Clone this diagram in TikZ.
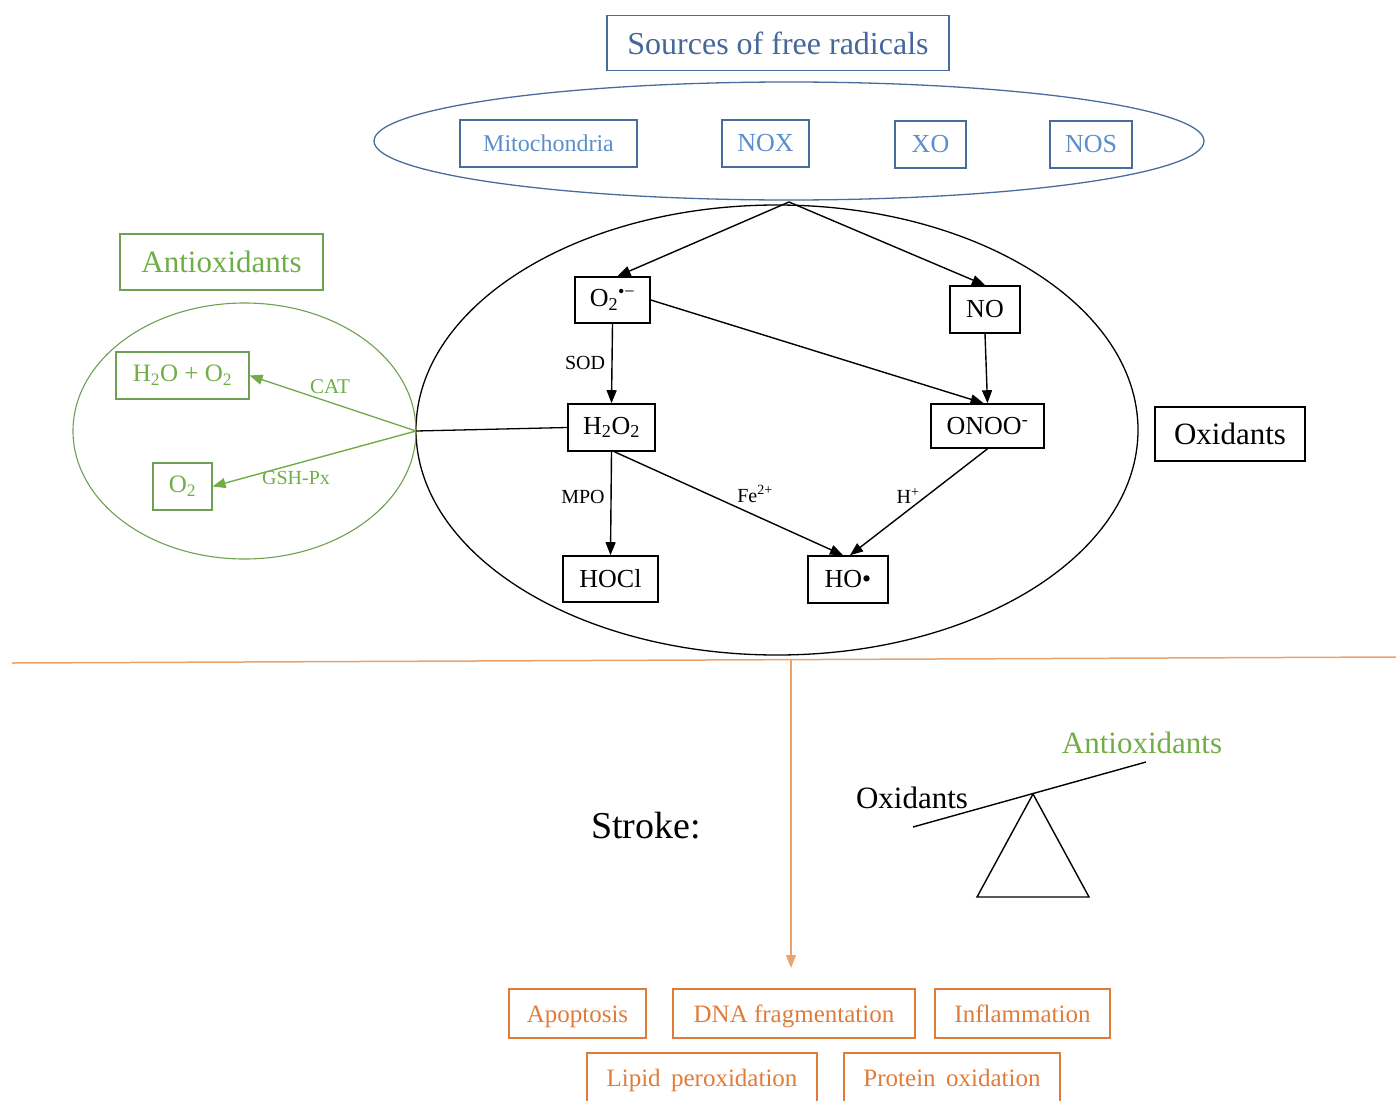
\documentclass[tikz,border=0pt]{standalone}
\usepackage{fontspec}
\setmainfont{Liberation Serif}
\usetikzlibrary{arrows.meta,shapes.geometric,calc}
\definecolor{srcblue}{HTML}{4A6C9B}
\definecolor{srctxt}{HTML}{5B8FCB}
\definecolor{titletxt}{HTML}{46679A}
\definecolor{agreen}{HTML}{70AD47}
\definecolor{gborder}{HTML}{6E9F52}
\definecolor{orng}{HTML}{E07C3A}
\definecolor{oline}{HTML}{EBA36E}
\newcommand{\myfs}[1]{\fontsize{#1}{#1}\selectfont}
\begin{document}
\begin{tikzpicture}[x=1pt,y=-1pt,
 box/.style={draw, rectangle, inner sep=0pt, line width=1.3pt},
 blkbox/.style={box, draw=black, text=black, font=\myfs{26}, line width=1.6pt},
 srcbox/.style={box, draw=srcblue, text=srctxt, font=\myfs{24}, line width=1.2pt, minimum height=47},
 grnbox/.style={box, draw=gborder, text=agreen, font=\myfs{25}, line width=1.1pt},
 orbox/.style={box, draw=orng, text=orng, font=\myfs{25}, line width=1.1pt, text height=17pt, text depth=0pt},
 arr/.style={-{Triangle[length=13pt,width=10pt]}, line width=1.4pt},
 lbl/.style={inner sep=0pt, font=\myfs{20}},
]
\useasboundingbox (0,0) rectangle (1396,1100);

% sources
\node[box, draw=srcblue, text=titletxt, font=\myfs{32}, minimum width=342, minimum height=55] (title) at (778,43) {Sources of free radicals};
\node[draw=srcblue, ellipse, line width=1.3pt, minimum width=830, minimum height=118, inner sep=0pt] (srcell) at (789,141) {};
\node[srcbox, minimum width=177] (mito) at (548.5,143.5) {Mitochondria};
\node[srcbox, minimum width=87, font=\myfs{26}] (nox) at (765.5,143.5) {NOX};
\node[srcbox, minimum width=71, font=\myfs{26}] (xo) at (930.5,144.5) {XO};
\node[srcbox, minimum width=82, font=\myfs{26}] (nos) at (1091,144.5) {NOS};

% oxidants ellipse
\node[draw=black, ellipse, line width=1.3pt, minimum width=722, minimum height=450, inner sep=0pt] (oxell) at (777,430) {};
\coordinate (apex) at (789,202);
\node[blkbox, minimum width=75, minimum height=46] (o2) at (612.5,300) {O\textsubscript{2}\textsuperscript{•−}};
\node[blkbox, minimum width=70, minimum height=47] (no) at (985,309.5) {NO};
\node[blkbox, minimum width=87, minimum height=47] (h2o2) at (611.5,427.5) {H\textsubscript{2}O\textsubscript{2}};
\node[blkbox, minimum width=113, minimum height=44] (onoo) at (987.5,426) {ONOO\textsuperscript{-}};
\node[blkbox, minimum width=95, minimum height=46] (hocl) at (610.5,579) {HOCl};
\node[blkbox, minimum width=80, minimum height=47] (ho) at (848,579.5) {HO•};
\node[blkbox, minimum width=150, minimum height=54, font=\myfs{31}] (oxid) at (1230,434) {Oxidants};

\draw[arr] (apex) -- ([xshift=5pt]o2.north);
\draw[arr] (apex) -- (no.north);
\draw[arr] (o2.south) -- (h2o2.north);
\draw[arr] (o2.east) -- ([xshift=-4pt]onoo.north);
\draw[arr] (no.south) -- (onoo.north);
\draw[arr] (h2o2.south) -- (hocl.north);
\draw[arr] ([xshift=3pt]h2o2.south) -- ([xshift=-5pt]ho.north);
\draw[arr] (onoo.south) -- ([xshift=2pt]ho.north);
\node[lbl] (sod) at (585,363) {SOD};
\node[lbl] (mpo) at (583,497) {MPO};
\node[lbl] (fe) at (755,494) {Fe\textsuperscript{2+}};
\node[lbl] (hp) at (908,496) {H\textsuperscript{+}};

% antioxidants
\node[grnbox, minimum width=203, minimum height=56, font=\myfs{31}] (antiox) at (221.5,262) {Antioxidants};
\node[draw=gborder, ellipse, line width=1.1pt, minimum width=343, minimum height=256, inner sep=0pt] (gell) at (244.5,431) {};
\node[grnbox, minimum width=133, minimum height=47] (h2o) at (182.5,375.5) {H\textsubscript{2}O + O\textsubscript{2}};
\node[grnbox, minimum width=59, minimum height=47] (o2g) at (182.5,486.5) {O\textsubscript{2}};
\coordinate (gsrc) at (416,431);
\draw[line width=1.3pt] (h2o2.west) -- (gsrc);
\draw[arr, agreen] (gsrc) -- (h2o.east);
\draw[arr, agreen] (gsrc) -- (o2g.east);
\node[lbl, text=agreen, font=\myfs{21}] (cat) at (330,387) {CAT};
\node[lbl, text=agreen] (gsh) at (296,478) {GSH-Px};

% separator and stroke
\coordinate (ol) at (12,663);
\coordinate (or) at (1396,657);
\coordinate (ostart) at (791,660);
\coordinate (otip) at (791,968);
\draw[oline, line width=1.5pt] (ol) -- (or);
\draw[arr, oline, line width=1.3pt] (ostart) -- (otip);
\node[font=\myfs{38}] (stroke) at (646,826) {Stroke:};

% balance
\draw[line width=1.4pt] (913,827) -- (1146,762);
\draw[line width=1.4pt] (1033,794) -- (977,897) -- (1089,897) -- cycle;
\node[font=\myfs{31}] (oxb) at (912,798) {Oxidants};
\node[font=\myfs{31}, text=agreen] (antb) at (1142,743) {Antioxidants};

% outcomes
\node[orbox, minimum width=137, minimum height=49] (apop) at (577.5,1013.5) {Apoptosis};
\node[orbox, minimum width=242, minimum height=49] (dna) at (794,1013.5) {DNA fragmentation};
\node[orbox, minimum width=175, minimum height=49] (infl) at (1022.5,1013.5) {Inflammation};
\node[orbox, minimum width=230, minimum height=50] (lipid) at (702,1078) {Lipid\, peroxidation};
\node[orbox, minimum width=216, minimum height=50] (prot) at (952,1078) {Protein\, oxidation};
\end{tikzpicture}
\end{document}
